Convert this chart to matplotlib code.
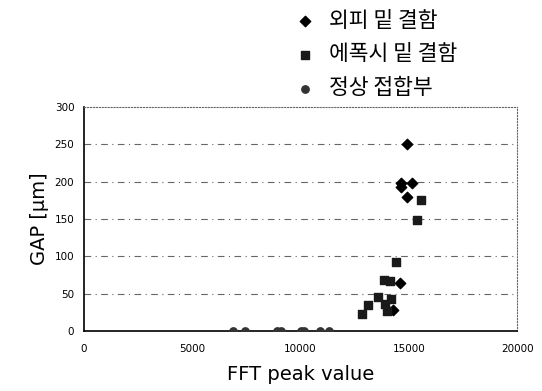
import numpy as np
import matplotlib.pyplot as plt

plt.rcParams['font.family'] = ['DejaVu Sans', 'Noto Sans CJK KR']

# 외피 밑 결함 (diamonds)
skin_x = [14900, 14660, 14660, 15170, 14920, 14600, 14290]
skin_y = [250, 199, 193, 199, 179, 65, 28]
# 에폭시 밑 결함 (squares)
epoxy_x = [15550, 15380, 14400, 13870, 14130, 13570, 14170, 13100, 13900, 13980, 12830]
epoxy_y = [175, 149, 93, 68, 67, 46, 43, 35, 37, 27, 23]
# 정상 접합부 (circles)
normal_x = [6870, 7440, 8900, 9080, 10000, 10180, 10890, 11300]
normal_y = [0, 0, 0, 0, 0, 0, 0, 0]

labels = ['외피 밑 결함', '에폭시 밑 결함', '정상 접합부']
xticks = [0, 5000, 10000, 15000, 20000]
yticks = [0, 50, 100, 150, 200, 250, 300]

fig = plt.figure(figsize=(5.42, 3.91), dpi=100)
ax = fig.add_axes([0.155, 0.153, 0.799, 0.573])

for y in yticks[1:-1]:
    ax.axhline(y, color='#666666', lw=0.8, ls=(0, (6, 4, 1, 4)), zorder=0)

ax.scatter(skin_x, skin_y, marker='D', s=28, color='black', zorder=3, label=labels[0])
ax.scatter(epoxy_x, epoxy_y, marker='s', s=28, color='#1a1a1a', zorder=3, label=labels[1])
ax.scatter(normal_x, normal_y, marker='o', s=28, color='#333333', zorder=3, label=labels[2])

ax.set_xlim(0, 20000)
ax.set_ylim(0, 300)
ax.set_xticks(xticks)
ax.set_yticks(yticks)
ax.tick_params(length=0, labelsize=7.5)
ax.tick_params(axis='x', pad=9)
ax.tick_params(axis='y', pad=7)
ax.set_xlabel('FFT peak value', fontsize=14, labelpad=8)
ax.set_ylabel('GAP [μm]', fontsize=14, labelpad=4)

for side in ['top', 'right']:
    ax.spines[side].set_linestyle(':')
    ax.spines[side].set_color('#666666')
    ax.spines[side].set_linewidth(0.8)
for side in ['left', 'bottom']:
    ax.spines[side].set_linewidth(1.2)

leg = fig.legend(loc='upper left', bbox_to_anchor=(0.503, 1.025), frameon=False,
                 labelspacing=0.55, handletextpad=0.5, handlelength=1.2,
                 prop={'family': ['Noto Sans CJK KR'], 'size': 15.5})

fig.savefig('out.png', dpi=100)
